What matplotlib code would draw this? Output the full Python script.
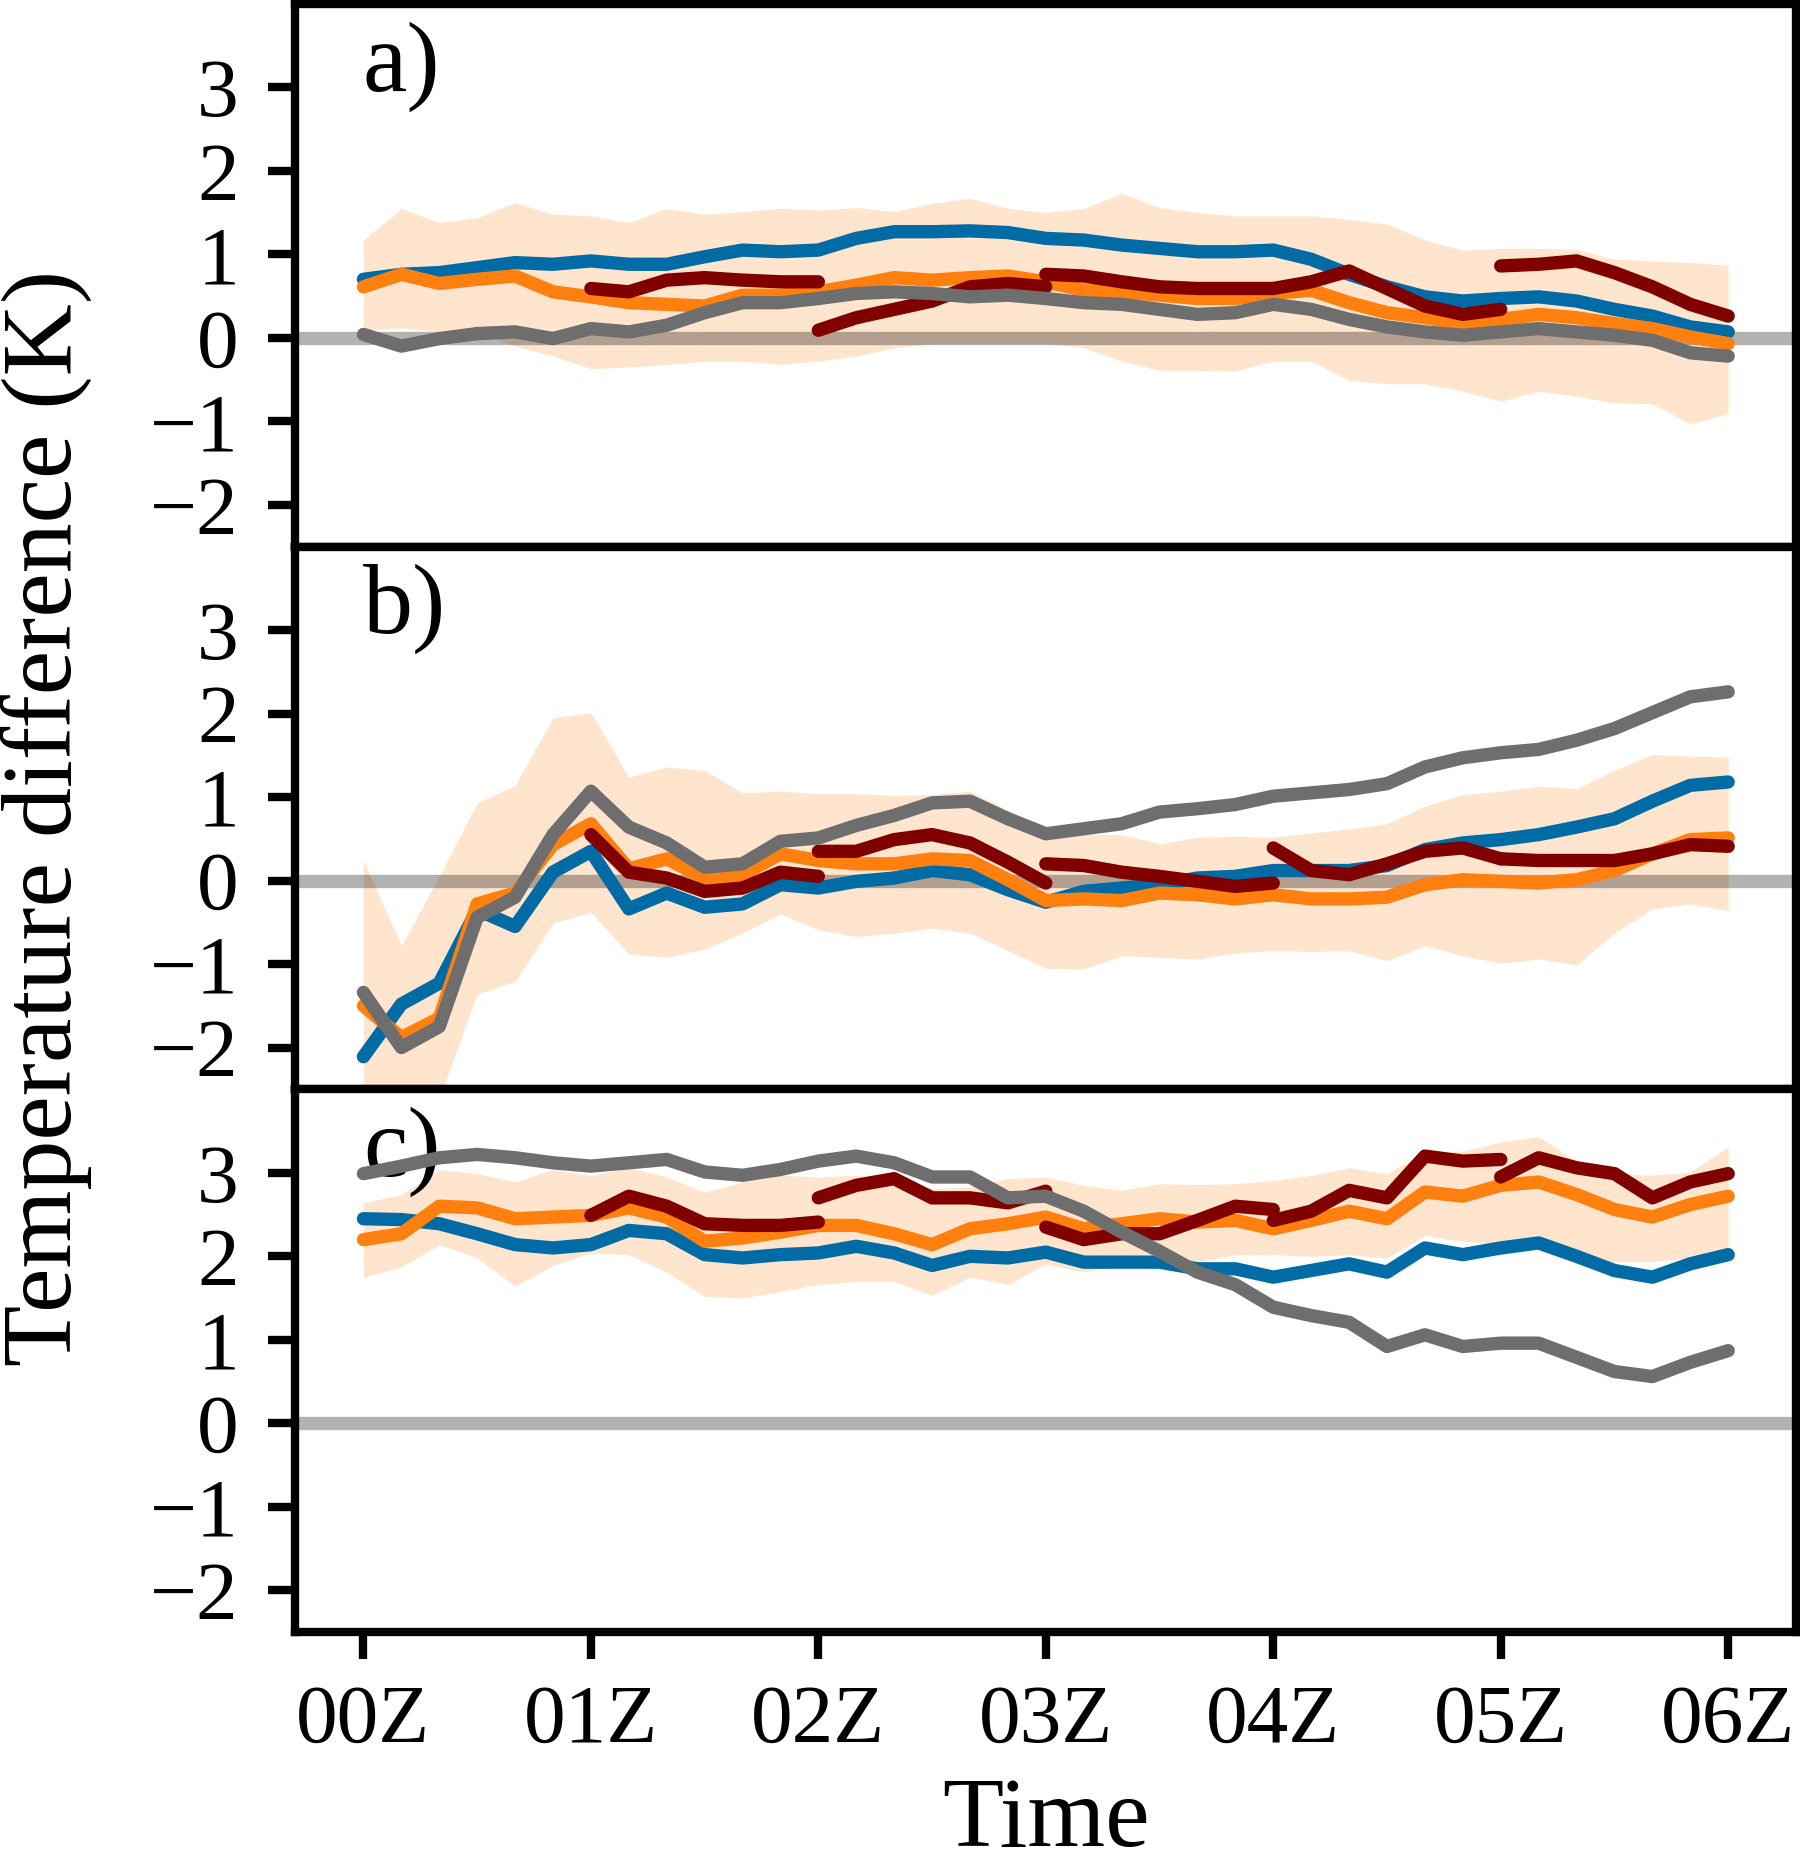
import numpy as np
import matplotlib
matplotlib.use("Agg")
import matplotlib.pyplot as plt

plt.rcParams['font.family'] = ['Liberation Serif', 'DejaVu Serif']

# ---------------- data ----------------
minutes = np.arange(0, 361, 10)          # 00Z .. 06Z, 10-minute steps
hours = minutes / 60.0
tick_hours = [0, 1, 2, 3, 4, 5, 6]
tick_labels = ['00Z', '01Z', '02Z', '03Z', '04Z', '05Z', '06Z']
panel_labels = ['a)', 'b)', 'c)']
ylabel = 'Temperature difference (K)'
xlabel = 'Time'

# panel a
blue_a = [0.70, 0.76, 0.78, 0.84, 0.90, 0.88, 0.92, 0.88, 0.88, 0.97,
          1.05, 1.03, 1.05, 1.19, 1.27, 1.27, 1.28, 1.26, 1.19,
          1.17, 1.11, 1.07, 1.03, 1.03, 1.05, 0.94, 0.76, 0.61, 0.49,
          0.44, 0.47, 0.49, 0.44, 0.34, 0.26, 0.13, 0.07]
orange_a = [0.61, 0.76, 0.65, 0.70, 0.74, 0.55, 0.49, 0.42, 0.40, 0.38,
            0.51, 0.51, 0.55, 0.63, 0.72, 0.69, 0.72, 0.74, 0.67,
            0.57, 0.55, 0.51, 0.47, 0.47, 0.53, 0.57, 0.42, 0.30, 0.24,
            0.17, 0.22, 0.28, 0.24, 0.17, 0.11, 0.01, -0.07]
gray_a = [0.04, -0.10, -0.01, 0.05, 0.07, -0.01, 0.11, 0.07, 0.15, 0.30,
          0.42, 0.42, 0.47, 0.53, 0.55, 0.53, 0.49, 0.51, 0.47,
          0.42, 0.40, 0.34, 0.28, 0.30, 0.40, 0.34, 0.22, 0.13, 0.07,
          0.03, 0.07, 0.11, 0.07, 0.03, -0.03, -0.18, -0.22]
upper_a = [1.17, 1.55, 1.38, 1.44, 1.62, 1.48, 1.46, 1.38, 1.55, 1.48,
           1.51, 1.55, 1.53, 1.56, 1.51, 1.61, 1.67, 1.55, 1.50,
           1.55, 1.73, 1.56, 1.50, 1.46, 1.46, 1.46, 1.42, 1.36, 1.17,
           1.05, 1.07, 1.07, 1.06, 0.94, 0.92, 0.90, 0.87]
lower_a = [0.09, 0.12, 0.08, 0.07, -0.10, -0.22, -0.37, -0.35, -0.32, -0.28,
           -0.28, -0.32, -0.28, -0.22, -0.12, -0.07, -0.07, -0.07, -0.07,
           -0.12, -0.28, -0.39, -0.39, -0.40, -0.28, -0.28, -0.51, -0.55, -0.55,
           -0.64, -0.76, -0.64, -0.70, -0.78, -0.79, -1.03, -0.91]
red_a_starts = [1, 2, 3, 4, 5]
red_a = [[0.59, 0.55, 0.69, 0.72, 0.69, 0.67, 0.67],
         [0.09, 0.24, 0.34, 0.44, 0.61, 0.65, 0.61],
         [0.76, 0.74, 0.67, 0.61, 0.59, 0.59, 0.59],
         [0.59, 0.67, 0.80, 0.59, 0.38, 0.28, 0.34],
         [0.86, 0.88, 0.92, 0.78, 0.61, 0.40, 0.26]]

# panel b
blue_b = [-2.11, -1.48, -1.23, -0.35, -0.55, 0.10, 0.35, -0.34, -0.15, -0.32,
          -0.28, -0.05, -0.09, -0.01, 0.03, 0.12, 0.07, -0.11, -0.26,
          -0.13, -0.09, -0.05, 0.03, 0.05, 0.12, 0.12, 0.12, 0.18, 0.37,
          0.45, 0.49, 0.55, 0.64, 0.74, 0.95, 1.14, 1.18]
orange_b = [-1.50, -1.88, -1.65, -0.28, -0.15, 0.43, 0.68, 0.14, 0.26, 0.03,
            0.07, 0.32, 0.24, 0.20, 0.20, 0.26, 0.24, 0.01, -0.24,
            -0.22, -0.24, -0.15, -0.17, -0.22, -0.17, -0.22, -0.22, -0.20, -0.05,
            0.01, -0.01, -0.03, 0.01, 0.12, 0.32, 0.49, 0.51]
gray_b = [-1.34, -2.00, -1.75, -0.44, -0.20, 0.55, 1.07, 0.64, 0.45, 0.16,
          0.20, 0.47, 0.51, 0.66, 0.78, 0.93, 0.95, 0.74, 0.56,
          0.62, 0.68, 0.82, 0.86, 0.91, 1.01, 1.05, 1.09, 1.16, 1.36,
          1.47, 1.53, 1.57, 1.68, 1.82, 2.01, 2.20, 2.26]
upper_b = [0.24, -0.78, 0.05, 0.93, 1.14, 1.95, 2.01, 1.24, 1.36, 1.32,
           1.05, 1.07, 1.04, 1.04, 1.02, 1.03, 1.07, 0.84, 0.64,
           0.55, 0.55, 0.44, 0.52, 0.53, 0.52, 0.57, 0.62, 0.68, 0.89,
           1.03, 1.07, 1.13, 1.10, 1.32, 1.51, 1.49, 1.48]
lower_b = [-2.90, -2.90, -2.60, -1.36, -1.21, -0.51, -0.38, -0.88, -0.92, -0.82,
           -0.63, -0.40, -0.59, -0.67, -0.63, -0.57, -0.63, -0.84, -1.05,
           -1.06, -0.90, -0.92, -0.94, -0.87, -0.84, -0.85, -0.84, -0.96, -0.78,
           -0.90, -0.99, -0.94, -1.01, -0.63, -0.34, -0.28, -0.36]
red_b_starts = [1, 2, 3, 4, 5]
red_b = [[0.55, 0.10, 0.03, -0.13, -0.09, 0.10, 0.05],
         [0.35, 0.35, 0.49, 0.55, 0.45, 0.22, -0.03],
         [0.20, 0.18, 0.10, 0.05, -0.01, -0.07, -0.03],
         [0.39, 0.12, 0.07, 0.20, 0.35, 0.39, 0.26],
         [0.26, 0.24, 0.24, 0.24, 0.32, 0.43, 0.41]]

# panel c
blue_c = [2.45, 2.44, 2.39, 2.27, 2.14, 2.10, 2.14, 2.31, 2.27, 2.02,
          1.98, 2.02, 2.04, 2.12, 2.04, 1.89, 2.00, 1.98, 2.05,
          1.93, 1.93, 1.93, 1.85, 1.85, 1.75, 1.83, 1.91, 1.81, 2.10,
          2.02, 2.10, 2.16, 2.00, 1.83, 1.75, 1.91, 2.02]
orange_c = [2.20, 2.27, 2.60, 2.58, 2.45, 2.47, 2.49, 2.58, 2.47, 2.18,
            2.22, 2.29, 2.37, 2.37, 2.27, 2.14, 2.33, 2.39, 2.47,
            2.33, 2.39, 2.45, 2.41, 2.43, 2.33, 2.43, 2.54, 2.45, 2.77,
            2.72, 2.85, 2.89, 2.74, 2.56, 2.47, 2.62, 2.72]
gray_c = [2.99, 3.08, 3.18, 3.22, 3.18, 3.12, 3.08, 3.12, 3.16, 3.01,
          2.97, 3.04, 3.14, 3.20, 3.12, 2.95, 2.95, 2.70, 2.72,
          2.54, 2.29, 2.06, 1.81, 1.66, 1.39, 1.29, 1.21, 0.92, 1.06,
          0.92, 0.96, 0.96, 0.79, 0.62, 0.56, 0.73, 0.87]
upper_c = [2.64, 2.74, 3.04, 2.99, 2.89, 3.04, 2.97, 3.06, 2.95, 2.77,
           2.89, 2.97, 2.95, 2.97, 2.93, 2.81, 2.83, 2.93, 2.95,
           2.85, 2.79, 2.87, 2.86, 2.87, 2.91, 2.97, 3.06, 2.99, 3.24,
           3.26, 3.37, 3.43, 3.14, 2.99, 2.97, 3.01, 3.31]
lower_c = [1.75, 1.87, 2.14, 1.98, 1.64, 1.89, 2.04, 2.02, 1.81, 1.52,
           1.50, 1.58, 1.66, 1.70, 1.70, 1.53, 1.75, 1.66, 1.91,
           1.81, 1.91, 1.89, 1.93, 2.02, 2.02, 2.00, 2.02, 1.98, 2.25,
           2.18, 2.14, 2.22, 2.06, 1.93, 1.94, 1.98, 2.10]
red_c_starts = [1, 2, 3, 4, 5]
red_c = [[2.49, 2.72, 2.60, 2.39, 2.37, 2.37, 2.41],
         [2.70, 2.85, 2.93, 2.70, 2.70, 2.64, 2.78],
         [2.35, 2.20, 2.27, 2.27, 2.43, 2.60, 2.56],
         [2.43, 2.54, 2.79, 2.70, 3.20, 3.14, 3.16],
         [2.95, 3.18, 3.06, 2.99, 2.70, 2.89, 2.99]]

panels = [
    (blue_a, orange_a, gray_a, upper_a, lower_a, red_a_starts, red_a),
    (blue_b, orange_b, gray_b, upper_b, lower_b, red_b_starts, red_b),
    (blue_c, orange_c, gray_c, upper_c, lower_c, red_c_starts, red_c),
]

# ---------------- style ----------------
c_blue = '#006ba4'
c_orange = '#ff800e'
c_gray = '#6e6e6e'
c_red = '#800000'
lw = 3.2

fig = plt.figure(figsize=(6.0, 1871 / 300), dpi=300)
left, right, bottom, top = 0.164, 0.998, 0.1277, 0.998
h = (top - bottom) / 3

axes = []
for k in range(3):
    ax = fig.add_axes([left, top - (k + 1) * h, right - left, h])
    axes.append(ax)
    blue, orange, gray, upper, lower, rstarts, rsegs = panels[k]
    ax.fill_between(hours, lower, upper, color=c_orange, alpha=0.2,
                    linewidth=0, zorder=1)
    ax.axhline(0, color='k', alpha=0.3, lw=lw, zorder=1.5)
    ax.plot(hours, blue, color=c_blue, lw=lw, solid_capstyle='round', zorder=2)
    ax.plot(hours, orange, color=c_orange, lw=lw, solid_capstyle='round', zorder=2.1)
    for s, seg in zip(rstarts, rsegs):
        seg_hours = s + minutes[:len(seg)] / 60.0
        ax.plot(seg_hours, seg, color=c_red, lw=lw, solid_capstyle='round', zorder=2.2)
    ax.plot(hours, gray, color=c_gray, lw=lw, solid_capstyle='round', zorder=2.3)

    ax.set_ylim(-2.5, 4.0)
    ax.set_xlim(-0.3, 6.3)
    ax.set_yticks([-2, -1, 0, 1, 2, 3])
    ax.set_xticks(tick_hours)
    for sp in ax.spines.values():
        sp.set_linewidth(2.0)
    ax.tick_params(axis='y', direction='out', length=6.5, width=2.0,
                   labelsize=20, pad=7)
    if k < 2:
        ax.tick_params(axis='x', bottom=False, labelbottom=False)
    else:
        ax.set_xticklabels(tick_labels)
        ax.tick_params(axis='x', direction='out', length=6.5, width=2.0,
                       labelsize=20, pad=6)
    ax.text(0.045, 0.968, panel_labels[k], transform=ax.transAxes,
            fontsize=24, ha='left', va='top', zorder=1.8)

fig.text(0.026, (top + bottom) / 2, ylabel, rotation=90, fontsize=24,
         ha='center', va='center')
fig.text((left + right) / 2, 0.026, xlabel, fontsize=24,
         ha='center', va='center')

fig.savefig('out.png', dpi=300)
